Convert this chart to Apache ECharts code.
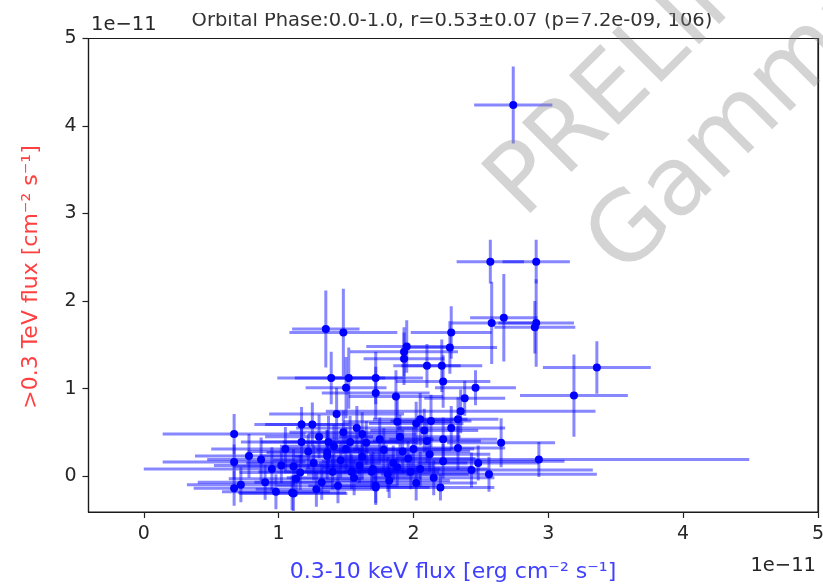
<!DOCTYPE html>
<html>
<head>
<meta charset="utf-8">
<script src="https://cdn.jsdelivr.net/npm/echarts@6/dist/echarts.min.js"></script>
<style>
html,body{margin:0;padding:0;background:#fff;overflow:hidden;}
#c{width:823px;height:585px;}
</style>
</head>
<body>
<div id="c"></div>
<script>
// Values in units of 1e-11
const xFlux = [2.74,2.57,2.91,2.58,2.67,2.91,2.90,3.36,3.19,1.35,1.48,1.95,1.93,1.93,2.28,2.27,2.10,2.21,2.22,1.39,1.52,1.50,1.72,1.72,1.87,2.46,2.38,2.35,2.33,1.43,1.17,1.25,2.05,2.13,2.22,2.65,2.33,2.93,2.22,2.43,2.56,2.20,0.67,0.67,0.67,0.72,0.78,0.87,0.95,0.90,0.98,1.05,1.10,1.37,1.17,1.53,1.36,2.00,2.05,1.11,1.13,1.32,1.44,1.72,1.81,1.11,1.70,1.96,1.41,1.50,1.36,1.16,1.54,1.69,1.72,1.58,1.62,1.65,1.78,1.85,1.90,1.98,2.08,2.12,2.15,1.26,1.30,1.46,1.56,1.60,1.75,1.82,1.92,2.02,1.48,1.22,1.88,2.28,2.48,1.62,2.10,1.40,1.02,1.28,1.88,2.02];
const yFlux = [4.24,2.45,2.45,1.75,1.81,1.75,1.70,1.24,0.92,1.68,1.64,1.48,1.42,1.34,1.64,1.47,1.26,1.26,1.08,1.12,1.12,1.01,1.12,0.95,0.91,1.01,0.89,0.74,0.65,0.71,0.59,0.59,0.65,0.63,0.42,0.38,0.32,0.19,0.17,0.07,0.02,-0.13,0.48,0.16,-0.14,-0.10,0.23,0.19,0.08,-0.07,-0.18,0.31,-0.19,0.39,0.39,0.39,0.23,0.31,0.08,0.11,-0.03,-0.07,-0.11,-0.11,0.02,-0.20,0.08,0.20,0.34,0.31,0.27,0.04,0.05,0.05,-0.13,0.55,0.22,0.38,0.30,0.15,0.45,0.05,0.52,0.25,-0.02,0.15,0.45,0.18,-0.02,0.12,0.42,-0.05,0.28,0.60,0.50,0.28,0.62,0.55,0.15,0.48,0.40,0.05,0.12,-0.15,0.10,-0.08];
const xErr = [0.29,0.25,0.25,0.30,0.25,0.28,0.30,0.40,0.40,0.25,0.40,0.30,0.40,0.30,0.30,0.35,0.25,0.30,0.35,0.40,0.40,0.30,0.35,0.40,0.35,0.30,0.30,1.00,0.30,0.50,0.35,0.35,0.35,0.30,0.40,0.40,0.35,1.56,0.90,0.90,0.80,0.40,0.53,0.53,0.30,0.40,0.40,0.40,0.95,0.50,0.40,0.55,0.40,0.50,0.45,0.50,0.50,0.45,0.50,0.45,0.50,0.50,0.45,0.50,0.60,0.40,0.50,0.50,0.40,0.45,0.45,0.45,0.50,0.50,0.40,0.45,0.50,0.45,0.50,0.55,0.45,0.50,0.40,0.45,0.45,0.50,0.40,0.50,0.50,0.55,0.40,0.45,0.50,0.35,0.40,0.45,0.40,0.40,0.45,0.40,0.40,0.55,0.50,0.45,0.55,0.45];
const yErr = [0.44,0.25,0.25,0.47,0.50,0.50,0.30,0.30,0.47,0.44,0.50,0.30,0.28,0.30,0.30,0.30,0.25,0.30,0.30,0.30,0.35,0.35,0.30,0.30,0.30,0.20,0.20,0.25,0.25,0.30,0.20,0.25,0.30,0.30,0.25,0.28,0.25,0.20,0.20,0.20,0.20,0.15,0.23,0.20,0.20,0.20,0.25,0.25,0.25,0.20,0.20,0.25,0.20,0.30,0.25,0.30,0.30,0.25,0.20,0.20,0.20,0.20,0.20,0.20,0.20,0.20,0.20,0.20,0.25,0.25,0.25,0.20,0.20,0.20,0.20,0.25,0.25,0.25,0.25,0.20,0.25,0.20,0.25,0.20,0.20,0.20,0.25,0.20,0.20,0.20,0.25,0.20,0.25,0.25,0.25,0.20,0.25,0.25,0.20,0.25,0.25,0.20,0.20,0.20,0.20,0.20];
const xTicks = [0,1,2,3,4,5];
const yTicks = [0,1,2,3,4,5];
const titleText = 'Orbital Phase:0.0-1.0, r=0.53\u00b10.07 (p=7.2e-09, 106)';
const xLabel = '0.3-10 keV flux [erg cm\u207b\u00b2 s\u207b\u00b9]';
const yLabel = '>0.3 TeV flux [cm\u207b\u00b2 s\u207b\u00b9]';
const scaleText = '1e\u221211';

const pts = xFlux.map((x, i) => [x, yFlux[i], xErr[i], yErr[i]]);
const FONT = 'DejaVu Sans';
const chart = echarts.init(document.getElementById('c'), null, {renderer: 'canvas', width: 823, height: 585});
const barColor = 'rgba(0,0,255,0.47)';
const WM = 'rgba(128,128,128,0.34)';
const frameLine = {show: true, onZero: false, lineStyle: {color: '#1a1a1a', width: 1.2}};

function mainAxis(ticks, margin) {
  return {
    type: 'value', min: -0.41, max: 5,
    axisLine: frameLine,
    splitLine: {show: false},
    axisTick: {show: true, inside: false, length: 6, lineStyle: {color: '#222', width: 1.2}, customValues: ticks},
    axisLabel: {show: true, margin: margin, color: '#262626', fontSize: 19, fontFamily: FONT, customValues: ticks, formatter: v => String(v)}
  };
}
function frameAxis(pos) {
  return {type: 'value', min: -0.41, max: 5, position: pos, axisLine: frameLine, axisTick: {show: false}, axisLabel: {show: false}, splitLine: {show: false}};
}

chart.setOption({
  animation: false,
  backgroundColor: '#fff',
  grid: {left: 88.5, right: 5, top: 38.5, bottom: 73, show: true, borderColor: '#1a1a1a', borderWidth: 1.2, outerBoundsMode: 'none', containLabel: false},
  xAxis: [Object.assign(mainAxis(xTicks, 13), {position: 'bottom'}), frameAxis('top')],
  yAxis: [Object.assign(mainAxis(yTicks, 12), {position: 'left'}), frameAxis('right')],
  series: [
    {
      type: 'custom',
      data: pts,
      clip: true,
      z: 2,
      renderItem: function (params, api) {
        const x = api.value(0), y = api.value(1), ex = api.value(2), ey = api.value(3);
        const l = api.coord([x - ex, y]), r = api.coord([x + ex, y]);
        const b = api.coord([x, y - ey]), t = api.coord([x, y + ey]);
        return {
          type: 'group',
          children: [
            {type: 'line', shape: {x1: l[0], y1: l[1], x2: r[0], y2: r[1]}, style: {stroke: barColor, lineWidth: 3}},
            {type: 'line', shape: {x1: b[0], y1: b[1], x2: t[0], y2: t[1]}, style: {stroke: barColor, lineWidth: 3}}
          ]
        };
      }
    },
    {
      type: 'scatter',
      data: pts.map(p => [p[0], p[1]]),
      symbol: 'circle',
      symbolSize: 8,
      itemStyle: {color: '#0000ff', opacity: 1},
      z: 3
    }
  ],
  graphic: [
    {type: 'text', x: 452, y: 21, z: 10, style: {text: titleText, font: '19.5px "DejaVu Sans"', fill: '#333', align: 'center', textAlign: 'center', verticalAlign: 'middle', textVerticalAlign: 'middle'}},
    {type: 'rect', z: 15, shape: {x: 180, y: 0, width: 560, height: 13}, style: {fill: '#fff'}},
    {type: 'text', x: 91, y: 25, z: 10, style: {text: scaleText, font: '19.5px "DejaVu Sans"', fill: '#262626', align: 'left', textAlign: 'left', verticalAlign: 'middle', textVerticalAlign: 'middle'}},
    {type: 'text', x: 816, y: 566, z: 10, style: {text: scaleText, font: '19.5px "DejaVu Sans"', fill: '#262626', align: 'right', textAlign: 'right', verticalAlign: 'middle', textVerticalAlign: 'middle'}},
    {type: 'text', x: 453, y: 572, z: 10, style: {text: xLabel, font: '22px "DejaVu Sans"', fill: '#4040ff', align: 'center', textAlign: 'center', verticalAlign: 'middle', textVerticalAlign: 'middle'}},
    {type: 'text', x: 31, y: 277, rotation: Math.PI / 2, z: 10, style: {text: yLabel, font: '22px "DejaVu Sans"', fill: '#ff4040', align: 'center', textAlign: 'center', verticalAlign: 'middle', textVerticalAlign: 'middle'}},
    {type: 'text', x: 540, y: 236, rotation: Math.PI / 4, z: 20, style: {text: 'PRELIMINARY', font: '96px "DejaVu Sans"', fill: WM, align: 'left', textAlign: 'left', verticalAlign: 'bottom', textVerticalAlign: 'bottom'}},
    {type: 'text', x: 640, y: 294, rotation: Math.PI / 4, z: 20, style: {text: 'Gamma', font: '96px "DejaVu Sans"', fill: WM, align: 'left', textAlign: 'left', verticalAlign: 'bottom', textVerticalAlign: 'bottom'}}
  ]
});
</script>
</body>
</html>
